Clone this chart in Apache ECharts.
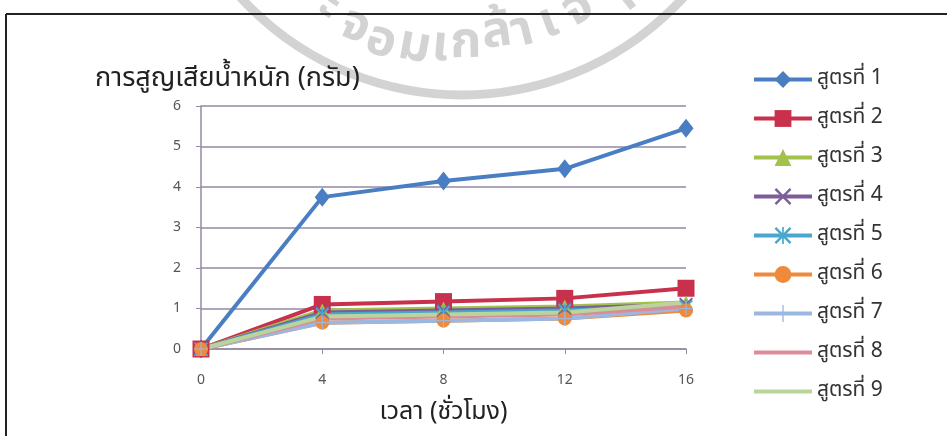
<!DOCTYPE html>
<html>
<head>
<meta charset="utf-8">
<script src="https://cdn.jsdelivr.net/npm/echarts@6/dist/echarts.min.js"></script>
<style>
  html, body { margin: 0; padding: 0; background: #ffffff; }
  #chart { width: 947px; height: 436px; }
</style>
</head>
<body>
<div id="chart"></div>
<script>
// Weight loss over time for nine formulas
const hours = ['0', '4', '8', '12', '16'];
const formulaNames = ['สูตรที่ 1', 'สูตรที่ 2', 'สูตรที่ 3', 'สูตรที่ 4', 'สูตรที่ 5', 'สูตรที่ 6', 'สูตรที่ 7', 'สูตรที่ 8', 'สูตรที่ 9'];
const formula1 = [0, 3.75, 4.15, 4.45, 5.45];
const formula2 = [0, 1.10, 1.17, 1.25, 1.50];
const formula3 = [0, 0.95, 1.00, 1.05, 1.15];
const formula4 = [0, 0.90, 0.95, 1.00, 1.10];
const formula5 = [0, 0.85, 0.90, 0.95, 1.05];
const formula6 = [0, 0.65, 0.70, 0.75, 0.95];
const formula7 = [0, 0.65, 0.70, 0.75, 1.00];
const formula8 = [0, 0.75, 0.80, 0.85, 1.05];
const formula9 = [0, 0.80, 0.85, 0.90, 1.15];
const yTicks = { min: 0, max: 6, step: 1 };

const thaiFont = '"Noto Sans Thai", "Tahoma", "Noto Sans", "DejaVu Sans", sans-serif';

// marker shapes drawn as filled outlines
const crossPath = 'path://M0,1 L1,0 L10,9 L9,10 Z M9,0 L10,1 L1,10 L0,9 Z';
const starPath = 'path://M0,1 L1,0 L10,9 L9,10 Z M9,0 L10,1 L1,10 L0,9 Z M4.5,0 L5.5,0 L5.5,10 L4.5,10 Z';
const plusPath = 'path://M4.6,0 L5.4,0 L5.4,10 L4.6,10 Z M0,4.6 L10,4.6 L10,5.4 L0,5.4 Z';

const styles = [
  { color: '#4a7ec2', symbol: 'diamond', size: [15, 19] },
  { color: '#c8304b', symbol: 'rect', size: 17 },
  { color: '#a2c24c', symbol: 'triangle', size: 14 },
  { color: '#7d5c9c', symbol: crossPath, size: 14 },
  { color: '#4aa6cc', symbol: starPath, size: 14 },
  { color: '#ef8a3c', symbol: 'circle', size: 14 },
  { color: '#9bb8e0', symbol: plusPath, size: 14 },
  { color: '#dc8c98', symbol: 'none', size: 0 },
  { color: '#bad59c', symbol: 'none', size: 0 }
];
const values = [formula1, formula2, formula3, formula4, formula5, formula6, formula7, formula8, formula9];

const series = values.map((v, i) => ({
  name: formulaNames[i],
  type: 'line',
  data: v,
  symbol: styles[i].symbol,
  symbolSize: styles[i].size,
  showSymbol: styles[i].symbol !== 'none',
  lineStyle: { width: 4, color: styles[i].color },
  itemStyle: { color: styles[i].color },
  emphasis: { disabled: true },
  animation: false
}));

// legend entries: plain lines have no marker
const legendData = formulaNames.map((n, i) =>
  styles[i].symbol === 'none' ? { name: n, itemStyle: { opacity: 0 } } : { name: n });

// faint stamp ring and lettering across the top
const stampCx = 462, stampCy = -205;
const stampLetters = [
  ['ะ', 328, 8], ['จ', 354, 30], ['อ', 380, 45], ['ม', 414, 50], ['เ', 440, 50],
  ['ก', 466, 47], ['ล้', 497, 36], ['า', 523, 35], ['เ', 550, 26], ['จ้', 580, 12], ['า', 624, 2]
];
const stampText = stampLetters.map(([ch, x, y]) => ({
  type: 'text',
  x: x, y: y,
  rotation: -Math.atan2(stampCx - x, y - stampCy),
  silent: true,
  z: -10,
  style: {
    text: ch, fill: 'rgba(140,140,140,0.38)',
    font: 'bold 50px ' + thaiFont,
    align: 'center', verticalAlign: 'middle'
  }
}));

const chart = echarts.init(document.getElementById('chart'), null, { renderer: 'canvas' });
chart.setOption({
  backgroundColor: '#ffffff',
  animation: false,
  title: {
    text: 'การสูญเสียน้ำหนัก (กรัม)',
    left: 90, top: 62,
    textStyle: { fontFamily: thaiFont, fontSize: 27, fontWeight: 'normal', color: '#222' }
  },
  legend: {
    orient: 'vertical',
    left: 752, top: 69, padding: 0,
    itemWidth: 58, itemHeight: 21, itemGap: 18,
    lineStyle: { width: 4 },
    textStyle: { fontFamily: thaiFont, fontSize: 21, color: '#333', padding: [0, 0, 0, 0] },
    data: legendData
  },
  grid: { left: 201, right: 261, top: 106, bottom: 87 },
  xAxis: {
    type: 'category',
    data: hours,
    boundaryGap: false,
    name: 'เวลา (ชั่วโมง)',
    nameLocation: 'middle',
    nameGap: 52,
    nameTextStyle: { fontFamily: thaiFont, fontSize: 25, color: '#222' },
    axisLine: { lineStyle: { color: '#948aa2', width: 1.5 } },
    axisTick: { show: true, length: 5, lineStyle: { color: '#948aa2' } },
    axisLabel: { margin: 24, fontFamily: '"Noto Sans", sans-serif', fontSize: 14, color: '#555' }
  },
  yAxis: {
    type: 'value',
    min: yTicks.min, max: yTicks.max, interval: yTicks.step,
    axisLine: { show: true, lineStyle: { color: '#948aa2', width: 1.5 } },
    axisTick: { show: true, length: 5, lineStyle: { color: '#948aa2' } },
    axisLabel: { margin: 20, fontFamily: '"Noto Sans", sans-serif', fontSize: 14, color: '#555' },
    splitLine: { lineStyle: { color: '#948aa2', width: 1.5 } }
  },
  graphic: [
    { type: 'circle', silent: true, z: -10, shape: { cx: stampCx, cy: stampCy, r: 300 },
      style: { fill: 'none', stroke: 'rgba(140,140,140,0.38)', lineWidth: 9 } },
    { type: 'line', silent: true, shape: { x1: 6, y1: 14, x2: 947, y2: 14 }, style: { stroke: '#222', lineWidth: 2 } },
    { type: 'line', silent: true, shape: { x1: 6, y1: 14, x2: 6, y2: 436 }, style: { stroke: '#222', lineWidth: 2 } }
  ].concat(stampText),
  series: series
});
</script>
</body>
</html>
